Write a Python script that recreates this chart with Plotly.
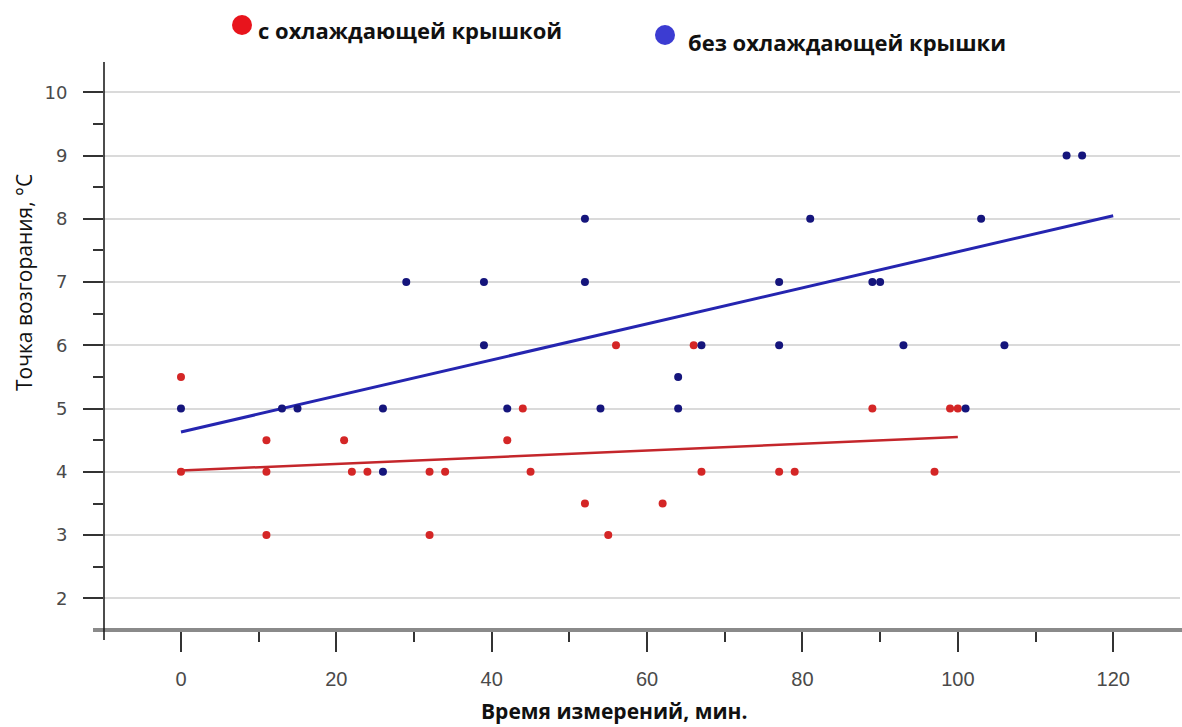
import plotly.graph_objects as go

# --- data ---
red_x = [0, 0, 11, 11, 11, 21, 22, 24, 32, 32, 34, 42, 44, 45, 52, 55, 56, 62, 66, 67, 77, 79, 89, 97, 99, 100]
red_y = [5.5, 4, 4.5, 4, 3, 4.5, 4, 4, 4, 3, 4, 4.5, 5, 4, 3.5, 3, 6, 3.5, 6, 4, 4, 4, 5, 4, 5, 5]

blue_x = [0, 13, 15, 26, 26, 29, 39, 39, 42, 52, 52, 54, 64, 64, 67, 77, 77, 81, 89, 90, 93, 101, 103, 106, 114, 116]
blue_y = [5, 5, 5, 5, 4, 7, 7, 6, 5, 8, 7, 5, 5.5, 5, 6, 7, 6, 8, 7, 7, 6, 5, 8, 6, 9, 9]

red_trend_x = [0, 100]
red_trend_y = [4.02, 4.55]
blue_trend_x = [0, 120]
blue_trend_y = [4.63, 8.05]

red_name = "с охлаждающей крышкой"
blue_name = "без охлаждающей крышки"
x_title = "Время измерений, мин."
y_title = "Точка возгорания, °С"

# --- layout geometry (pixels) ---
W, H = 1182, 727
L, R, T, B = 104, 2, 62, 97
PW = W - L - R
PH = H - T - B


def px(x):
    return (x - L) / PW


def py(y):
    return (H - B - y) / PH


fig = go.Figure()

fig.add_trace(go.Scatter(x=red_trend_x, y=red_trend_y, mode="lines",
                         line=dict(color="#c4262b", width=2.5), showlegend=False, hoverinfo="skip"))
fig.add_trace(go.Scatter(x=blue_trend_x, y=blue_trend_y, mode="lines",
                         line=dict(color="#2525b0", width=3), showlegend=False, hoverinfo="skip"))
fig.add_trace(go.Scatter(x=red_x, y=red_y, mode="markers", name=red_name,
                         marker=dict(color="#d42626", size=8), showlegend=False))
fig.add_trace(go.Scatter(x=blue_x, y=blue_y, mode="markers", name=blue_name,
                         marker=dict(color="#15157c", size=8), showlegend=False))

tick_font = dict(family="DejaVu Sans", size=18, color="#4a4a4a")

fig.update_layout(
    width=W, height=H,
    margin=dict(l=L, r=R, t=T, b=B, autoexpand=False),
    paper_bgcolor="white", plot_bgcolor="white",
    showlegend=False,
    xaxis=dict(range=[-9.91, 128.6], tick0=0, dtick=20, ticks="outside", ticklen=21,
               tickwidth=1.5, tickcolor="#333333", showgrid=False, zeroline=False,
               showline=False, ticklabelstandoff=10,
               tickfont=dict(family="Liberation Sans Narrow, Liberation Sans", size=20, color="#4a4a4a"),
               minor=dict(dtick=10, ticks="outside", ticklen=11, tickwidth=1.5,
                          tickcolor="#333333", showgrid=False)),
    yaxis=dict(range=[1.5, 10.48], tick0=0, dtick=1, ticks="outside", ticklen=20,
               tickwidth=2, tickcolor="#333333", showgrid=True, gridcolor="#dadada",
               gridwidth=1.5, zeroline=False, showline=False, ticklabelstandoff=12,
               tickfont=tick_font,
               minor=dict(dtick=0.5, ticks="outside", ticklen=10, tickwidth=2,
                          tickcolor="#333333", showgrid=False)),
)

# axis lines
fig.add_shape(type="line", xref="paper", yref="paper", x0=px(93), x1=px(1182), y0=0, y1=0,
              line=dict(color="#8a8a8a", width=4), layer="above")
fig.add_shape(type="line", xref="paper", yref="paper", x0=0, x1=0, y0=py(640), y1=py(62),
              line=dict(color="#111111", width=1.5), layer="above")

# legend markers
fig.add_shape(type="circle", xref="paper", yref="paper", xsizemode="pixel", ysizemode="pixel",
              xanchor=px(242), yanchor=py(25), x0=-10, x1=10, y0=-10, y1=10,
              fillcolor="#e8141c", line=dict(width=0))
fig.add_shape(type="circle", xref="paper", yref="paper", xsizemode="pixel", ysizemode="pixel",
              xanchor=px(665), yanchor=py(35), x0=-10, x1=10, y0=-10, y1=10,
              fillcolor="#3c3cd2", line=dict(width=0))

legend_font = dict(family="Open Sans", size=22, color="#111111")
fig.add_annotation(text=f"<b>{red_name}</b>", xref="paper", yref="paper", x=px(256), y=py(30),
                   xanchor="left", yanchor="middle", showarrow=False, font=legend_font)
fig.add_annotation(text=f"<b>{blue_name}</b>", xref="paper", yref="paper", x=px(686), y=py(42),
                   xanchor="left", yanchor="middle", showarrow=False, font=legend_font)

# axis titles
fig.add_annotation(text=f"<b>{x_title}</b>", xref="paper", yref="paper", x=px(614), y=py(711),
                   xanchor="center", yanchor="middle", showarrow=False,
                   font=dict(family="Open Sans", size=21, color="#111111"))
fig.add_annotation(text=y_title, xref="paper", yref="paper", x=px(24), y=py(283),
                   xanchor="center", yanchor="middle", textangle=-90, showarrow=False,
                   font=dict(family="Open Sans", size=21, color="#111111"))

fig.write_html("out.html", config={"displayModeBar": False},
               post_script="document.body.style.margin='0';document.body.style.overflow='hidden';")
